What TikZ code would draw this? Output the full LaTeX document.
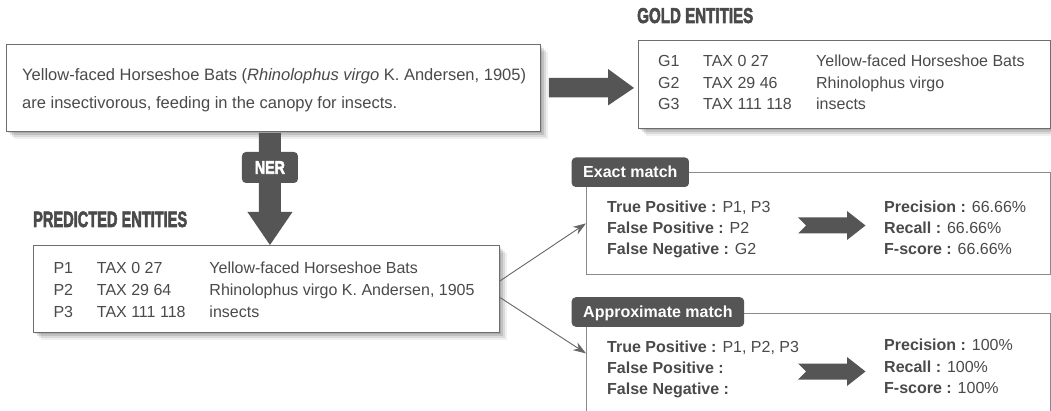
\documentclass[tikz,border=0pt]{standalone}
\usepackage{fontspec}
\setmainfont{Liberation Sans}
\newfontfamily\heavyfont{Liberation Sans Bold}[FakeBold=3]
\usepackage{graphicx}
\usetikzlibrary{calc,shadows,arrows.meta}
\definecolor{txt}{HTML}{4A4A4A}
\definecolor{dark}{HTML}{555555}
\definecolor{frame}{HTML}{6E6E6E}
\definecolor{lightframe}{HTML}{8A8A8A}
\definecolor{conncol}{HTML}{666666}
\definecolor{titlecol}{HTML}{4A4A4A}
\begin{document}
\begin{tikzpicture}[x=1pt,y=-1pt,
  softshadow/.style={
    general shadow={fill=black,opacity=0.12,shadow xshift=2pt,shadow yshift=-2pt},
    general shadow={fill=black,opacity=0.11,shadow xshift=4pt,shadow yshift=-4pt},
    general shadow={fill=black,opacity=0.09,shadow xshift=6pt,shadow yshift=-6pt},
    general shadow={fill=black,opacity=0.06,shadow xshift=8pt,shadow yshift=-8pt}},
  panel/.style={draw=frame, fill=white, line width=0.9pt, inner sep=0pt, anchor=north west},
  result/.style={draw=lightframe, line width=0.8pt, inner sep=0pt, anchor=north west},
  body/.style={font=\fontsize{16}{19}\selectfont, text=txt, anchor=base west, inner sep=0pt},
  sent/.style={font=\fontsize{16.5}{19}\selectfont, text=txt, anchor=base west, inner sep=0pt},
  heading/.style={text=titlecol, anchor=base west, inner sep=0pt},
  tag/.style={fill=dark, text=white, font=\fontsize{16}{19}\selectfont\bfseries,
    rounded corners=4pt, inner xsep=11.5pt, inner ysep=0pt, minimum height=29.5pt,
    text height=11.5pt, text depth=0pt, anchor=west},
  conn/.style={draw=conncol, line width=0.9pt, -{Stealth[length=13pt,width=9pt]}},
  chev/.pic={\fill[dark] (-34,-8) -- (15,-8) -- (15,-14.5) -- (33.5,0) -- (15,14.5)
     -- (15,8) -- (-34,8) -- (-26,0) -- cycle;}
]
\useasboundingbox (0,0) rectangle (1051,411);
\clip (0,0) rectangle (1051,411);
\fill[white] (0,0) rectangle (1051,411);

% panels
\node[panel, softshadow, minimum width=534pt, minimum height=87pt] (sentbox) at (6,44) {};
\node[panel, softshadow, minimum width=412pt, minimum height=88pt] (gold) at (638,40) {};
\node[panel, softshadow, minimum width=466pt, minimum height=87pt] (pred) at (33,245) {};
\node[result, minimum width=464pt, minimum height=102pt] (exact) at (586,172) {};
\node[result, minimum width=464pt, minimum height=110pt] (approx) at (586,313) {};

% sentence
\node[sent] (s1) at (22,81) {Yellow-faced Horseshoe Bats (\textit{Rhinolophus virgo} K. Andersen, 1905)};
\node[sent] (s2) at (22,109) {are insectivorous, feeding in the canopy for insects.};

% titles
\node[heading] (goldtitle) at (637,23) {\resizebox{116pt}{15pt}{\heavyfont GOLD ENTITIES}};
\node[heading] (predtitle) at (33,227) {\resizebox{154pt}{15.5pt}{\heavyfont PREDICTED ENTITIES}};

% gold rows
\node[body] (g1) at (658,67) {\makebox[45pt][l]{G1}\makebox[113pt][l]{TAX 0 27}Yellow-faced Horseshoe Bats};
\node[body] (g2) at (658,88.5) {\makebox[45pt][l]{G2}\makebox[113pt][l]{TAX 29 46}Rhinolophus virgo};
\node[body] (g3) at (658,110) {\makebox[45pt][l]{G3}\makebox[113pt][l]{TAX 111 118}insects};

% predicted rows
\node[body] (p1) at (53.3,274) {\makebox[43.4pt][l]{P1}\makebox[112.6pt][l]{TAX 0 27}Yellow-faced Horseshoe Bats};
\node[body] (p2) at (53.3,295.5) {\makebox[43.4pt][l]{P2}\makebox[112.6pt][l]{TAX 29 64}Rhinolophus virgo K. Andersen, 1905};
\node[body] (p3) at (53.3,317) {\makebox[43.4pt][l]{P3}\makebox[112.6pt][l]{TAX 111 118}insects};

% gold arrow
\coordinate (gaS) at ([xshift=8pt]sentbox.east);
\coordinate (gaT) at (gold.west |- sentbox.east);
\fill[dark] ($(gaS)+(0,-10)$) -- ($(gaT)+(-30,-10)$) -- ($(gaT)+(-30,-19)$) -- ($(gaT)+(-4,0)$)
  -- ($(gaT)+(-30,17.5)$) -- ($(gaT)+(-30,9.5)$) -- ($(gaS)+(0,9.5)$) -- cycle;

% NER arrow
\coordinate (nmid) at ($(sentbox.south)!0.5!(pred.north)$);
\coordinate (nS) at (nmid |- sentbox.south);
\coordinate (nT) at (nmid |- pred.north);
\fill[dark] ($(nS)+(-11,1)$) -- ($(nS)+(11,1)$) -- ($(nT)+(11,-33)$) -- ($(nT)+(22.5,-33)$) -- (nT)
  -- ($(nT)+(-22.5,-33)$) -- ($(nT)+(-11,-33)$) -- cycle;
\node[fill=dark, rounded corners=4pt, minimum width=56pt, minimum height=31pt, inner sep=0pt, text=white]
  (ner) at ($(nmid |- 0,167.5)$) {\resizebox{30pt}{12.5pt}{\heavyfont NER}};

% connectors
\draw[conn] ([yshift=8pt]pred.east) -- (exact.west);
\draw[conn] ([yshift=-8.5pt]pred.east) -- ([yshift=15pt]approx.west);

% tags
\node[tag] (exacttag) at (571.5,172.25) {Exact match};
\node[tag] (approxtag) at (571.5,312) {Approximate match};

% exact content
\node[body] (e1) at (607,213) {\textbf{True Positive :} P1, P3};
\node[body] (e2) at (607,234) {\textbf{False Positive :} P2};
\node[body] (e3) at (607,255) {\textbf{False Negative :} G2};
\node[body] (e4) at (884,213) {\textbf{Precision :} 66.66\%};
\node[body] (e5) at (884,234) {\textbf{Recall :} 66.66\%};
\node[body] (e6) at (884,255) {\textbf{F-score :} 66.66\%};
\pic at (832,225.5) {chev};

% approximate content
\node[body] (a1) at (607,352) {\textbf{True Positive :} P1, P2, P3};
\node[body] (a2) at (607,373) {\textbf{False Positive :}};
\node[body] (a3) at (607,394) {\textbf{False Negative :}};
\node[body] (a4) at (884,350) {\textbf{Precision :} 100\%};
\node[body] (a5) at (884,372) {\textbf{Recall :} 100\%};
\node[body] (a6) at (884,393) {\textbf{F-score :} 100\%};
\pic at (832,371.5) {chev};
\end{tikzpicture}
\end{document}
